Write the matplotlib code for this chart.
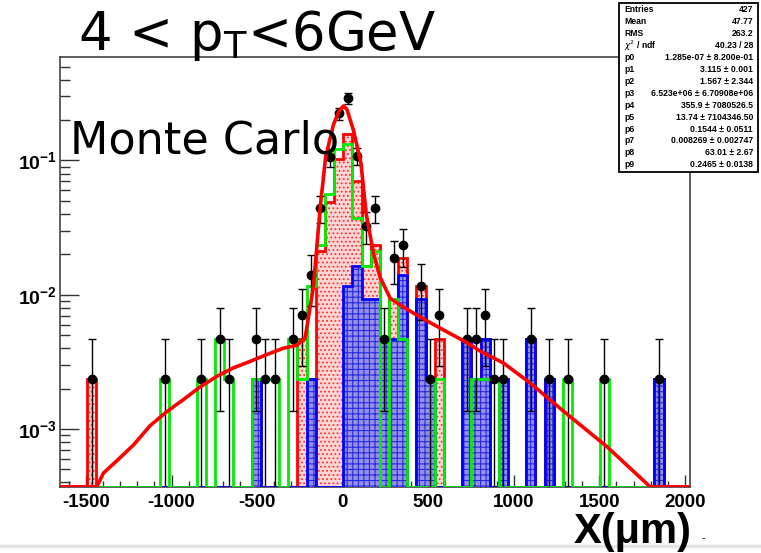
import numpy as np
import matplotlib
matplotlib.use("Agg")
import matplotlib.pyplot as plt
from matplotlib.ticker import MultipleLocator, LogLocator, NullFormatter, FixedLocator
from matplotlib.patches import Rectangle
from matplotlib.lines import Line2D

W, H = 761, 553

# binning of the histograms
x_lo = -1655.0
bin_w = 53.5
n_bins = 69
n_entries = 427

# counts per bin (normalised by n_entries when drawn)
blue_counts = [0, 0, 0, 0, 0, 0, 0, 0, 0, 0,
               0, 0, 0, 0, 0, 0, 0, 0, 0, 0,
               0, 1, 0, 0, 0, 0, 0, 1, 0, 0,
               0, 5, 7, 4, 4, 2, 2, 6, 0, 4,
               1, 0, 0, 0, 2, 1, 2, 0, 1, 0,
               0, 2, 0, 1, 0, 0, 0, 0, 0, 0,
               0, 0, 0, 0, 0, 1, 0, 0, 0]
red_counts = [0, 0, 0, 1, 0, 0, 0, 0, 0, 0,
              0, 0, 0, 0, 0, 0, 0, 0, 0, 0,
              0, 0, 0, 0, 0, 0, 2, 0, 9, 21,
              44, 62, 23, 3, 6, 0, 2, 2, 0, 1,
              0, 2, 0, 0, 0, 0, 0, 0, 0, 0,
              0, 0, 0, 0, 0, 0, 0, 0, 0, 0,
              0, 0, 0, 0, 0, 0, 0, 0, 0]
green_counts = [0, 0, 0, 0, 0, 0, 0, 0, 0, 0,
                0, 1, 0, 0, 0, 1, 0, 2, 1, 0,
                0, 1, 1, 1, 0, 2, 1, 5, 10, 24,
                52, 57, 16, 7, 9, 0, 4, 2, 0, 0,
                0, 1, 0, 0, 0, 1, 1, 1, 0, 0,
                0, 0, 0, 0, 0, 1, 0, 0, 0, 1,
                0, 0, 0, 0, 0, 0, 0, 0, 0]
data_counts = [0, 0, 0, 1, 0, 0, 0, 0, 0, 0,
               0, 1, 0, 0, 0, 1, 0, 2, 1, 0,
               0, 2, 1, 1, 0, 2, 3, 6, 19, 45,
               96, 124, 46, 14, 19, 2, 8, 10, 0, 5,
               1, 3, 0, 0, 2, 2, 3, 1, 1, 0,
               0, 2, 0, 1, 0, 1, 0, 0, 0, 1,
               0, 0, 0, 0, 0, 1, 0, 0, 0]

# fit function
fit_x = [-1655, -1475, -1437, -1398, -1320, -1223, -1125, -1030, -930, -835,
         -735, -640, -541, -440, -346, -268, -219, -171, -131, -100, -54, -20,
         5, 25, 63, 107, 137, 180, 219, 278, 336, 414, 511, 609, 726, 804,
         940, 1096, 1290, 1544, 1797, 2030]
fit_y = [1e-4, 2e-4, 3.7e-4, 4.7e-4, 5.8e-4, 7.6e-4, 1.06e-3, 1.34e-3,
         1.66e-3, 2.05e-3, 2.47e-3, 2.85e-3, 3.19e-3, 3.6e-3, 4.0e-3, 4.2e-3,
         4.8e-3, 0.0115, 0.045, 0.105, 0.185, 0.235, 0.255, 0.24, 0.168,
         0.095, 0.0405, 0.0204, 0.0135, 0.0094, 0.0084, 0.0073, 0.0062,
         0.0053, 0.0044, 0.0038, 0.0031, 0.0022, 0.00136, 7.4e-4, 3.7e-4, 1e-4]

stat_names = ["Entries", "Mean", "RMS", r"$\chi^2$ / ndf", "p0", "p1", "p2",
              "p3", "p4", "p5", "p6", "p7", "p8", "p9"]
stat_values = ["427", "47.77", "263.2", "40.23 / 28",
               "1.285e-07 ± 8.200e-01", "3.115 ± 0.001", "1.567 ± 2.344",
               "6.523e+06 ± 6.70908e+06", "355.9 ± 7080526.5",
               "13.74 ± 7104346.50", "0.1544 ± 0.0511",
               "0.008269 ± 0.002747", "63.01 ± 2.67", "0.2465 ± 0.0138"]

y_min, y_max = 3.7e-4, 0.59

plt.rcParams['mathtext.fontset'] = 'custom'
plt.rcParams['mathtext.bf'] = 'Liberation Sans:bold'
plt.rcParams['mathtext.rm'] = 'DejaVu Sans'
plt.rcParams['axes.unicode_minus'] = False
plt.rcParams['hatch.linewidth'] = 0.8


def fx(px):
	return px / W


def fy(py):
	return 1 - py / H


fig = plt.figure(figsize=(W / 100, H / 100), dpi=100)
ax = fig.add_axes([fx(60), fy(487), 630 / W, 430 / H])

edges = x_lo + bin_w * np.arange(n_bins + 1)
centers = 0.5 * (edges[:-1] + edges[1:])

blue = np.array(blue_counts) / n_entries
red_top = (np.array(blue_counts) + np.array(red_counts)) / n_entries
green = np.array(green_counts) / n_entries
data = np.array(data_counts) / n_entries

# red (stack top) with dotted fill
ax.stairs(np.maximum(red_top, y_min), edges, baseline=y_min, fill=True,
          facecolor="#ffd6d6", edgecolor="#ff3030", hatch="....", lw=0, zorder=2)
ax.stairs(np.maximum(red_top, y_min), edges, baseline=y_min, color="red", lw=2.0, zorder=3)

# blue with hatched fill
ax.stairs(np.maximum(blue, y_min), edges, baseline=y_min, fill=True,
          facecolor="#9490e6", edgecolor="#2a2ae0", hatch="+++", lw=0, zorder=4)
ax.stairs(np.maximum(blue, y_min), edges, baseline=y_min, color="blue", lw=2.0, zorder=5)

# green outline
ax.stairs(np.maximum(green, y_min), edges, baseline=y_min, color="#00ee00", lw=2.0, zorder=6)

# data points
m = data > 0
err = np.sqrt(np.array(data_counts)[m]) / n_entries
lo = np.minimum(err, data[m] - y_min * 0.5)
ax.errorbar(centers[m], data[m], yerr=[lo, err], fmt="o", color="black",
            ms=6, elinewidth=1.0, capsize=3, capthick=1.0, zorder=7)

# fit curve
ax.plot(fit_x, np.maximum(fit_y, y_min * 1.003), color="red", lw=2.6, zorder=8,
        solid_joinstyle="round")

ax.set_yscale("log")
ax.set_xlim(-1652, 2030)
ax.set_ylim(y_min, y_max)

ax.xaxis.set_major_locator(MultipleLocator(500))
ax.xaxis.set_minor_locator(MultipleLocator(100))
ax.yaxis.set_major_locator(FixedLocator([1e-3, 1e-2, 1e-1]))
ax.yaxis.set_minor_locator(LogLocator(base=10, subs=np.arange(2, 10), numticks=20))
ax.yaxis.set_minor_formatter(NullFormatter())
ax.set_yticklabels([r"$\mathbf{10^{-3}}$", r"$\mathbf{10^{-2}}$", r"$\mathbf{10^{-1}}$"])

for lab in ax.get_xticklabels():
	lab.set_fontfamily("Liberation Sans")
	lab.set_fontweight("bold")
	lab.set_fontsize(13.5)
ax.tick_params(axis="y", labelsize=14, pad=2)
ax.tick_params(axis="x", which="major", direction="in", length=9, width=1, color="#333333", pad=5)
ax.tick_params(axis="x", which="minor", direction="in", length=4.5, width=1, color="#333333")
ax.tick_params(axis="y", which="major", direction="in", length=14, width=1, color="#333333")
ax.tick_params(axis="y", which="minor", direction="in", length=7, width=1, color="#333333")
for s in ax.spines.values():
	s.set_color("#444444")
	s.set_linewidth(1.2)

# texts
fig.text(fx(78), fy(50), r"4 < p$_{\mathregular{T}}$<6GeV", fontsize=38,
         family="DejaVu Sans", va="baseline", ha="left")
fig.text(fx(70), fy(153), "Monte Carlo", fontsize=32, family="DejaVu Sans",
         va="baseline", ha="left", zorder=10)
fig.text(fx(692), fy(543), "X(μm)", fontsize=30, family="Liberation Sans",
         fontweight="bold", va="baseline", ha="right")
fig.text(fx(701), fy(541), "-", fontsize=8, family="Liberation Sans", va="baseline")

# grey rule at the bottom
fig.add_artist(Line2D([0, 1], [fy(546), fy(546)], color="#e4e4e4", lw=2.5, zorder=0))

# stats box
fig.add_artist(Rectangle((fx(619), fy(172)), (758 - 619) / W, (172 - 3) / H,
                         facecolor="white", edgecolor="black", lw=1.3, zorder=20))
for i, (name, val) in enumerate(zip(stat_names, stat_values)):
	yy = fy(10 + 11.9 * i)
	fig.text(fx(624), yy, name, fontsize=6.2, family="Liberation Sans",
	         fontweight="bold", va="center", ha="left", zorder=21)
	fig.text(fx(753), yy, val, fontsize=6.2, family="Liberation Sans",
	         fontweight="bold", va="center", ha="right", zorder=21)

fig.savefig("out.png", dpi=100)
plt.close(fig)
